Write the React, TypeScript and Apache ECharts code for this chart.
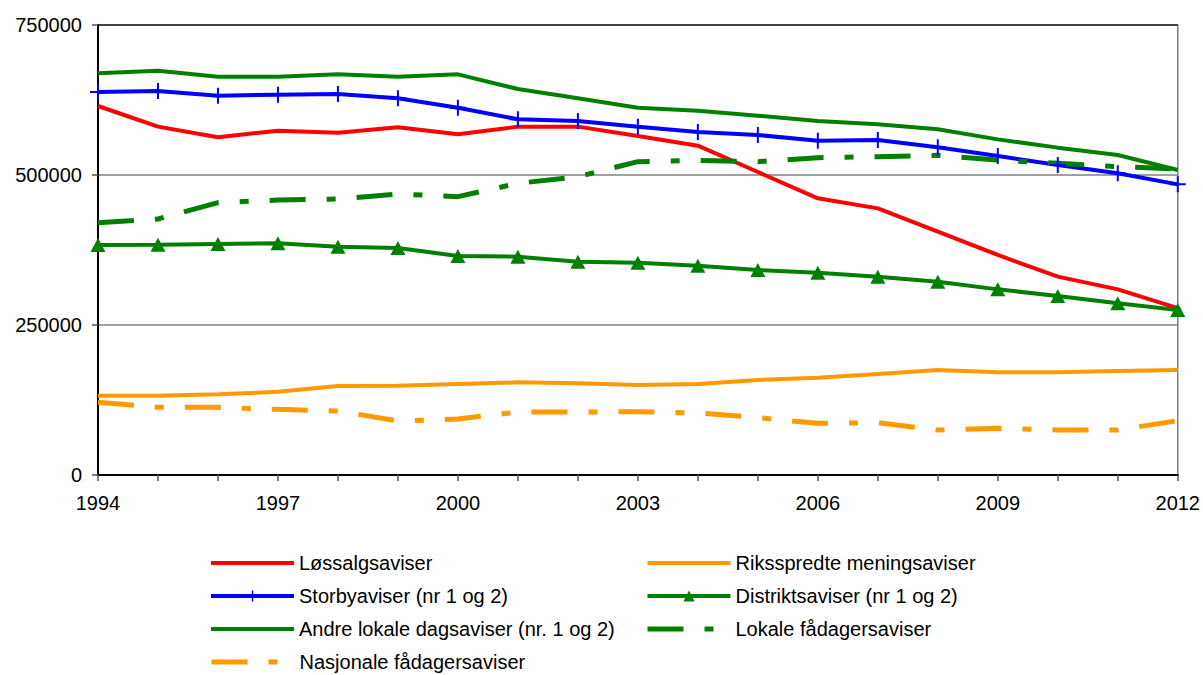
import React, { useEffect, useRef } from "react";
import * as echarts from "echarts";

const years = ["1994","1995","1996","1997","1998","1999","2000","2001","2002","2003","2004","2005","2006","2007","2008","2009","2010","2011","2012"];
const yTicks = [0, 250000, 500000, 750000];

const loessalg = [615000, 580600, 562800, 573900, 570600, 579400, 567800, 580600, 580600, 565000, 548900, 505000, 461100, 444400, 405600, 366700, 330600, 309400, 278000];
const riks = [132200, 132200, 134400, 138900, 148300, 148900, 151700, 154400, 152800, 150000, 151700, 158300, 162200, 168300, 175000, 171100, 171100, 173300, 175000];
const storby = [638300, 640000, 632200, 633900, 635000, 627800, 612200, 592800, 590000, 580600, 571700, 566700, 557200, 558300, 546100, 531700, 516700, 502800, 484400];
const distrikt = [383300, 383900, 385000, 386100, 380600, 378300, 365000, 363900, 355600, 353900, 348900, 341700, 337200, 330600, 322200, 309400, 298300, 286100, 275000];
const andre = [669500, 673900, 663900, 663900, 667800, 663900, 667800, 643300, 627800, 612200, 607200, 598900, 590000, 584400, 576100, 559400, 545600, 533300, 508300];
const lokale = [420600, 426700, 453900, 458300, 460000, 468300, 463900, 486100, 497200, 522200, 524400, 522200, 528900, 530600, 532800, 525000, 519400, 513900, 510000];
const nasjonale = [121100, 112800, 112800, 109400, 106700, 90000, 93300, 105000, 105000, 105600, 103300, 95600, 86100, 87200, 75000, 77800, 75000, 75000, 90600];

const names = [
  "Løssalgsaviser",
  "Riksspredte meningsaviser",
  "Storbyaviser (nr 1 og 2)",
  "Distriktsaviser (nr 1 og 2)",
  "Andre lokale dagsaviser (nr. 1 og 2)",
  "Lokale fådagersaviser",
  "Nasjonale fådagersaviser",
];

const FONT = "'Liberation Sans', Arial, sans-serif";
const plusPath = "path://M7,0 L9,0 L9,7 L16,7 L16,9 L9,9 L9,16 L7,16 L7,9 L0,9 L0,7 L7,7 Z";
const dash = [36, 21, 9, 21];

export default function App() {
  const ref = useRef<HTMLDivElement>(null);
  useEffect(() => {
    if (!ref.current) return;
    const chart = echarts.init(ref.current, undefined, { renderer: "svg" });
    const solid = (name: string, data: number[], color: string, extra: any = {}) => ({
      name,
      type: "line",
      data,
      symbol: "none",
      lineStyle: { color, width: 4 },
      itemStyle: { color },
      ...extra,
    });
    const noMark = (name: string, width: number) => ({ name, itemStyle: { opacity: 0 }, lineStyle: { width } });
    const withMark = (name: string) => ({ name, lineStyle: { width: 4 } });
    const legendBase = {
      orient: "vertical",
      top: 553,
      padding: 0,
      itemWidth: 83,
      itemHeight: 14,
      itemGap: 13,
      textStyle: { fontSize: 20, fontFamily: FONT, color: "#000" },
    };
    chart.setOption({
      animation: false,
      backgroundColor: "#ffffff",
      textStyle: { fontFamily: FONT },
      grid: { left: 98, right: 23, top: 25, bottom: 200, show: true, borderColor: "#808080", borderWidth: 1.5 },
      xAxis: {
        type: "category",
        data: years,
        boundaryGap: false,
        axisLine: { lineStyle: { color: "#000", width: 2 } },
        axisTick: { interval: 0, length: 6, lineStyle: { color: "#555", width: 1.5 } },
        axisLabel: { interval: 2, color: "#000", fontSize: 20, fontFamily: FONT, margin: 18 },
        splitLine: { show: false },
      },
      yAxis: {
        type: "value",
        min: yTicks[0],
        max: yTicks[yTicks.length - 1],
        interval: 250000,
        axisLine: { show: true, lineStyle: { color: "#000", width: 2 } },
        axisTick: { show: true, length: 6, lineStyle: { color: "#555", width: 1.5 } },
        axisLabel: { color: "#000", fontSize: 20, fontFamily: FONT, margin: 16, formatter: (v: number) => String(v) },
        splitLine: { lineStyle: { color: ["#000", "#808080", "#808080", "#222"], width: 1.5 } },
      },
      legend: [
        {
          ...legendBase,
          left: 209,
          data: [noMark(names[0], 4), withMark(names[2]), noMark(names[4], 4)],
        },
        {
          ...legendBase,
          left: 645,
          data: [noMark(names[1], 4), withMark(names[3]), noMark(names[5], 5)],
        },
        {
          ...legendBase,
          top: 652,
          left: 209,
          data: [noMark(names[6], 5)],
        },
      ],
      series: [
        solid(names[0], loessalg, "#ff0000"),
        solid(names[1], riks, "#ff9900"),
        solid(names[2], storby, "#0000ff", { symbol: plusPath, symbolSize: [16, 16], showSymbol: true }),
        solid(names[3], distrikt, "#008000", { symbol: "triangle", symbolSize: [15, 14], showSymbol: true }),
        solid(names[4], andre, "#008000"),
        {
          name: names[5],
          type: "line",
          data: lokale,
          symbol: "none",
          lineStyle: { color: "#008000", width: 5, type: dash },
          itemStyle: { color: "#008000" },
        },
        {
          name: names[6],
          type: "line",
          data: nasjonale,
          symbol: "none",
          lineStyle: { color: "#ff9900", width: 5, type: dash },
          itemStyle: { color: "#ff9900" },
        },
      ],
    });
    return () => chart.dispose();
  }, []);
  return <div ref={ref} style={{ position: "fixed", left: 0, top: 0, width: 1203, height: 675, background: "#fff" }} />;
}
